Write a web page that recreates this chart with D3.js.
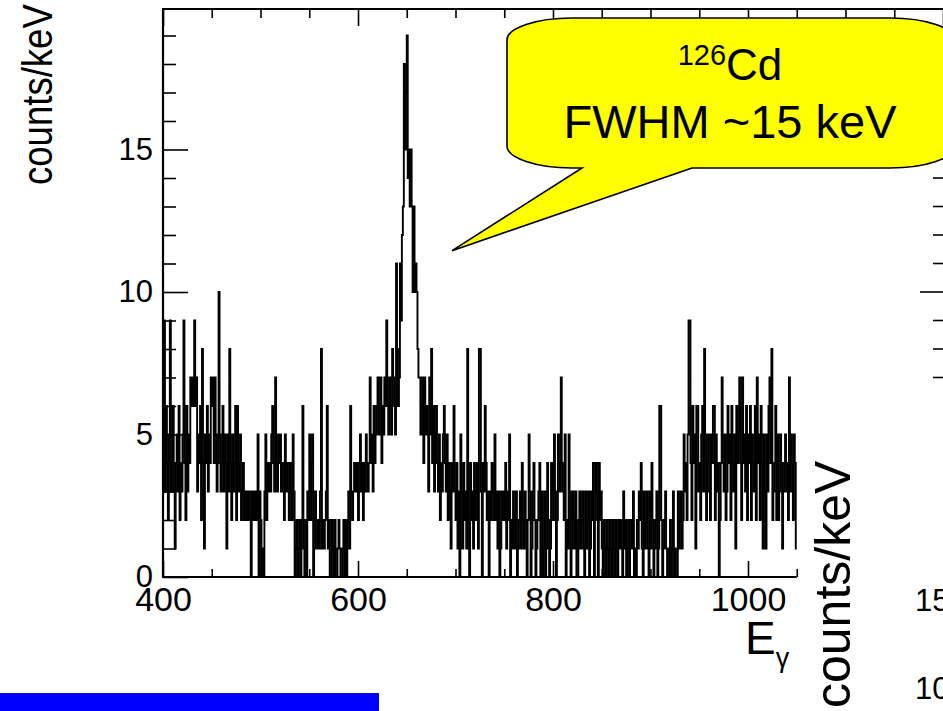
<!DOCTYPE html>
<html>
<head>
<meta charset="utf-8">
<script src="https://cdn.jsdelivr.net/npm/d3@7"></script>
<style>
  html, body { margin: 0; padding: 0; background: #fff; }
  svg { display: block; overflow: hidden; }
  text { font-family: "Liberation Sans", Arial, Helvetica, sans-serif; fill: #000; }
</style>
</head>
<body>
<script>
// Gamma-ray energy spectrum, 1 keV bins starting at 400 keV (counts per bin)
const binStart = 400;
const binWidth = 1;
const counts = [
  4,9,3,6,4,2,5,9,3,4,   6,3,1,4,5,3,6,2,4,3,
  5,9,4,2,6,3,5,4,7,6,   7,6,9,6,7,3,5,4,6,2,
  8,4,1,5,4,6,3,5,4,7,   6,7,4,7,5,3,4,10,5,3,
  4,6,3,5,4,1,5,3,8,4,   2,5,3,4,6,2,6,3,4,5,
  2,3,4,2,3,2,3,2,3,2,   0,3,2,3,2,3,2,5,0,3,
  2,0,1,0,3,5,2,4,3,4,   3,5,6,4,3,7,4,3,5,4,
  5,3,4,3,2,5,3,4,3,2,   4,3,2,5,3,0,1,2,0,1,
  2,0,2,6,1,0,2,0,3,2,   5,2,4,5,0,1,3,2,1,2,
  1,3,8,1,2,1,2,3,6,1,   2,0,0,2,1,0,2,0,0,1,
  2,1,0,0,1,2,0,2,0,2,   3,1,6,3,2,3,4,3,4,3,
  2,4,5,3,4,2,4,3,5,4,   3,4,7,4,5,3,6,4,5,6,
  7,5,6,7,4,6,5,7,6,9,   6,5,7,6,5,8,7,6,5,11,
  8,6,7,11,9,12,13,18,15,17,   19,14,15,13,15,13,10,13,10,11,
  10,8,7,7,5,6,7,4,7,5,   6,5,3,7,5,8,4,6,3,5,
  6,4,3,5,2,4,3,5,6,4,   3,5,2,4,3,1,4,3,6,3,
  2,4,1,3,0,5,3,1,4,2,   3,1,8,2,0,4,2,3,1,4,
  3,2,4,1,8,8,3,0,4,3,   6,4,2,3,0,3,2,4,3,2,
  5,2,3,1,3,0,1,3,2,3,   2,4,1,3,2,5,0,2,1,3,
  2,1,3,0,1,2,3,1,4,2,   1,3,2,0,2,5,3,0,1,3,
  4,2,0,1,2,3,4,0,3,0,   1,3,0,1,4,2,0,1,4,3,
  2,5,3,0,2,5,4,3,7,4,   3,2,5,0,2,1,5,3,0,1,
  3,2,1,3,0,0,2,3,1,2,   3,1,0,3,1,2,3,0,1,3,
  2,4,0,2,4,3,0,4,2,3,   1,0,2,1,0,2,1,0,2,1,
  0,2,1,0,2,1,0,2,1,2,   1,0,3,1,2,0,1,2,0,1,
  2,1,3,0,1,0,2,1,3,2,   4,1,0,3,1,2,3,1,0,3,
  1,4,2,0,1,2,3,0,1,6,   6,2,0,1,2,3,1,0,0,1,
  2,0,1,3,0,1,0,0,3,1,   2,3,1,2,5,3,4,2,5,9,
  9,4,2,6,4,5,1,6,6,3,   4,2,5,6,3,8,5,2,4,5,
  3,2,5,4,6,6,2,5,3,4,   0,2,4,7,4,3,5,2,3,6,
  4,5,2,6,4,3,5,1,6,4,   5,7,4,2,7,4,5,3,6,2,
  5,4,6,2,5,4,3,6,2,7,   4,5,2,6,4,1,5,3,1,5,
  3,6,7,4,8,2,3,4,6,2,   5,2,3,5,4,1,3,4,5,3,
  4,2,7,3,5,4,2,5,4,1
];

// Axis ticks
const xMajorTicks = [400, 600, 800, 1000];
const xTickLabels = ["400", "600", "800", "1000"];
const yMajorTicks = [0, 5, 10, 15];
const yTickLabels = ["0", "5", "10", "15"];
const rightPanelLabels = ["150", "100"];

// Annotation text
const calloutIsotope = { mass: "126", symbol: "Cd" };
const calloutLine2 = "FWHM ~15 keV";
const yTitle = "counts/keV";

const W = 943, H = 711;
const svg = d3.select("body").append("svg").attr("width", W).attr("height", H);

const plotLeft = 163, plotBottom = 577, plotTop = 9;
const x = d3.scaleLinear().domain([400, 1050]).range([plotLeft, 796.75]);
const y = d3.scaleLinear().domain([0, 20]).range([plotBottom, 7]);
// the top axis keeps the same keV scale and runs to the window edge
const xTop = x.copy().domain([400, 1200]).range([plotLeft, x(1200)]);

// ---- histogram outline (step line) ----
const pts = counts.map((c, i) => [binStart + i * binWidth, c]);
pts.push([binStart + counts.length * binWidth, counts[counts.length - 1]]);
const step = d3.line().x(d => x(d[0])).y(d => y(d[1])).curve(d3.curveStepAfter);
svg.append("path")
  .attr("d", step(pts))
  .attr("fill", "none")
  .attr("stroke", "#000")
  .attr("stroke-width", 1.9);

// ---- axes ----
function styleAxis(g) {
  g.select(".domain").remove();
  g.selectAll(".tick line").attr("stroke", "#000").attr("stroke-width", 1.6);
}
const minorX = d3.range(400, 1051, 50).filter(v => !xMajorTicks.includes(v));
const minorXTop = d3.range(400, 1201, 50).filter(v => v % 200 !== 0);
const majorXTop = d3.range(400, 1201, 200);

// bottom axis: ticks point into the frame
svg.append("g").attr("transform", `translate(0,${plotBottom})`)
  .call(d3.axisBottom(x).tickValues(minorX).tickSize(-8).tickFormat(""))
  .call(styleAxis);
svg.append("g").attr("transform", `translate(0,${plotBottom})`)
  .call(d3.axisBottom(x).tickValues(xMajorTicks).tickSize(-16).tickPadding(10)
        .tickFormat((d, i) => xTickLabels[i]))
  .call(styleAxis)
  .call(g => g.selectAll("text").attr("font-size", 34).attr("fill", "#000")
        .style("font-family", "'Liberation Sans', Arial, sans-serif"));

// top axis
svg.append("g").attr("transform", `translate(0,${plotTop})`)
  .call(d3.axisTop(xTop).tickValues(minorXTop).tickSize(-9).tickFormat(""))
  .call(styleAxis);
svg.append("g").attr("transform", `translate(0,${plotTop})`)
  .call(d3.axisTop(xTop).tickValues(majorXTop).tickSize(-17).tickFormat(""))
  .call(styleAxis);

// left axis
const minorY = d3.range(0, 20).filter(v => v % 5 !== 0);
svg.append("g").attr("transform", `translate(${plotLeft},0)`)
  .call(d3.axisLeft(y).tickValues(minorY).tickSize(-13).tickFormat(""))
  .call(styleAxis);
svg.append("g").attr("transform", `translate(${plotLeft},0)`)
  .call(d3.axisLeft(y).tickValues(yMajorTicks).tickSize(-25).tickPadding(10)
        .tickFormat((d, i) => yTickLabels[i]))
  .call(styleAxis)
  .call(g => g.selectAll("text").attr("font-size", 31).attr("fill", "#000")
        .style("font-family", "'Liberation Sans', Arial, sans-serif"));

// frame lines
const frame = svg.append("g").attr("stroke", "#000").attr("stroke-width", 2.2).attr("fill", "none");
frame.append("line").attr("x1", plotLeft).attr("x2", plotLeft).attr("y1", plotTop).attr("y2", plotBottom);
frame.append("line").attr("x1", plotLeft - 1).attr("x2", x(1050)).attr("y1", plotBottom).attr("y2", plotBottom);
frame.append("line").attr("x1", plotLeft - 1).attr("x2", W).attr("y1", plotTop).attr("y2", plotTop);

// y title (slightly condensed along its length)
svg.append("text")
  .attr("transform", "translate(52,185) rotate(-90) scale(0.87,1)")
  .attr("text-anchor", "start")
  .attr("font-size", 42)
  .text(yTitle);

// x title E_gamma
const xt = svg.append("text").attr("x", 745).attr("y", 654).attr("font-size", 46);
xt.append("tspan").text("E");
xt.append("tspan").attr("font-size", 27).attr("dy", 13).text("γ");

// neighbouring panel: its y-axis ticks, labels and title
const rightTicks = d3.range(7, 20);
svg.append("g").selectAll("line").data(rightTicks).join("line")
  .attr("x1", d => d % 5 === 0 ? 920 : 933).attr("x2", W)
  .attr("y1", d => y(d)).attr("y2", d => y(d))
  .attr("stroke", "#000").attr("stroke-width", 1.6);
svg.append("g").selectAll("text").data(rightPanelLabels).join("text")
  .attr("x", 915).attr("y", (d, i) => 611 + i * 88)
  .attr("font-size", 31)
  .text(d => d);
svg.append("text")
  .attr("transform", "translate(850,708) rotate(-90)")
  .attr("text-anchor", "start")
  .attr("font-size", 50)
  .text(yTitle);

// ---- callout ----
const L = 507, R = 955, T = 18, B = 168, rx = 65, ry = 22;
const tailL = 582, tailR = 692;
const tipX = x(696.5), tipY = y(11.45);
const callout = d3.path();
callout.moveTo(L + rx, T);
callout.lineTo(R - rx, T);
callout.bezierCurveTo(R - rx * 0.45, T, R, T + ry * 0.45, R, T + ry);
callout.lineTo(R, B - ry);
callout.bezierCurveTo(R, B - ry * 0.45, R - rx * 0.45, B, R - rx, B);
callout.lineTo(tailR, B);
callout.lineTo(tipX, tipY);
callout.lineTo(tailL, B);
callout.lineTo(L + rx, B);
callout.bezierCurveTo(L + rx * 0.45, B, L, B - ry * 0.45, L, B - ry);
callout.lineTo(L, T + ry);
callout.bezierCurveTo(L, T + ry * 0.45, L + rx * 0.45, T, L + rx, T);
callout.closePath();
svg.append("path").attr("d", callout.toString())
  .attr("fill", "#ffff00").attr("stroke", "#000").attr("stroke-width", 1.6);

const t1 = svg.append("text").attr("x", 730).attr("y", 80).attr("text-anchor", "middle").attr("font-size", 44);
t1.append("tspan").attr("font-size", 29).attr("dy", -15).text(calloutIsotope.mass);
t1.append("tspan").attr("dy", 15).text(calloutIsotope.symbol);
svg.append("text").attr("x", 730).attr("y", 138).attr("text-anchor", "middle")
  .attr("font-size", 47).text(calloutLine2);

// blue bar at the bottom edge
svg.append("rect").attr("x", 0).attr("y", 693).attr("width", 379).attr("height", 18).attr("fill", "#0000ff");
</script>
</body>
</html>
